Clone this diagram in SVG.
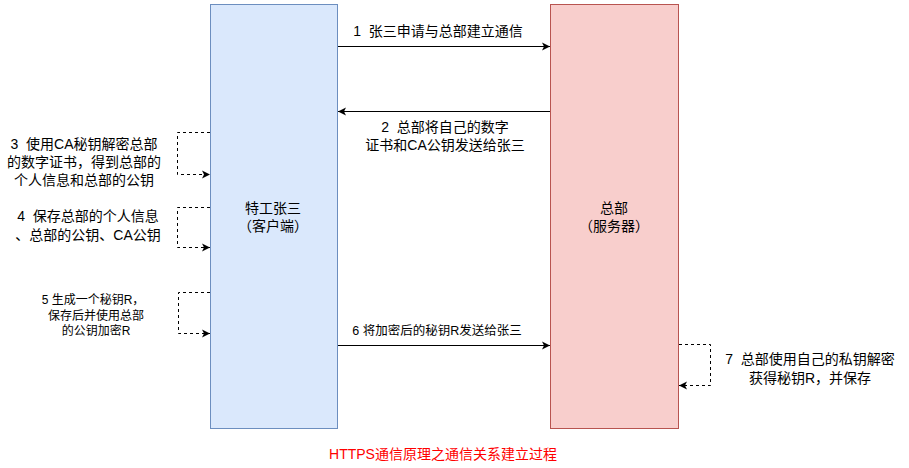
<svg xmlns="http://www.w3.org/2000/svg" width="909" height="468" viewBox="0 0 909 468">
<style>
text{font-family:"Liberation Sans","Noto Sans CJK SC",sans-serif;font-size:14px;fill:#000;text-anchor:middle;white-space:pre}
.s{font-size:12px}
.m{font-size:12.5px}
.solid{fill:none;stroke:#000;stroke-width:1}
.dash{fill:none;stroke:#000;stroke-width:1;stroke-dasharray:3 3}
</style>
<defs>
<marker id="ah" markerWidth="10" markerHeight="10" refX="9" refY="5" orient="auto" markerUnits="userSpaceOnUse">
<path d="M1,1 L9,5 L1,9 L3,5 Z" fill="#000"/>
</marker>
</defs>
<rect width="909" height="468" fill="#fff"/>
<g id="client">
<rect x="210.5" y="4.5" width="127" height="424" fill="#dae8fc" stroke="#6c8ebf"/>
<text x="273" y="213">特工张三</text>
<text x="273" y="231">（客户端）</text>
</g>
<g id="server">
<rect x="550.5" y="4.5" width="128" height="424" fill="#f8cecc" stroke="#b85450"/>
<text x="614" y="213">总部</text>
<text x="614" y="231">（服务器）</text>
</g>
<g id="connectors">
<path class="solid" d="M338,46.5 H550" marker-end="url(#ah)"/>
<path class="solid" d="M550,111.5 H338" marker-end="url(#ah)"/>
<path class="solid" d="M338,345.5 H550" marker-end="url(#ah)"/>
<path class="dash" d="M210,132.5 H177.5 V174.5 H210" marker-end="url(#ah)"/>
<path class="dash" d="M210,207.5 H177.5 V247.5 H210" marker-end="url(#ah)"/>
<path class="dash" d="M210,292.5 H178.5 V333.5 H210" marker-end="url(#ah)"/>
<path class="dash" d="M679,344.5 H710.5 V385.5 H679" marker-end="url(#ah)"/>
</g>
<g id="labels">
<text x="438" y="36" xml:space="preserve">1  张三申请与总部建立通信</text>
<text x="445" y="132" xml:space="preserve">2  总部将自己的数字</text>
<text x="445" y="150">证书和CA公钥发送给张三</text>
<text class="m" x="437" y="335">6 将加密后的秘钥R发送给张三</text>
<text x="84" y="149" xml:space="preserve">3  使用CA秘钥解密总部</text>
<text x="84" y="167">的数字证书，得到总部的</text>
<text x="84" y="185">个人信息和总部的公钥</text>
<text x="88" y="221" xml:space="preserve">4  保存总部的个人信息</text>
<text x="88" y="240">、总部的公钥、CA公钥</text>
<text class="s" x="93" y="304">5 生成一个秘钥R，</text>
<text class="s" x="96" y="320">保存后并使用总部</text>
<text class="s" x="96" y="335">的公钥加密R</text>
<text x="810" y="364" xml:space="preserve">7  总部使用自己的私钥解密</text>
<text x="810" y="383">获得秘钥R，并保存</text>
<text x="443" y="459" style="fill:#ff0000">HTTPS通信原理之通信关系建立过程</text>
</g>
</svg>
